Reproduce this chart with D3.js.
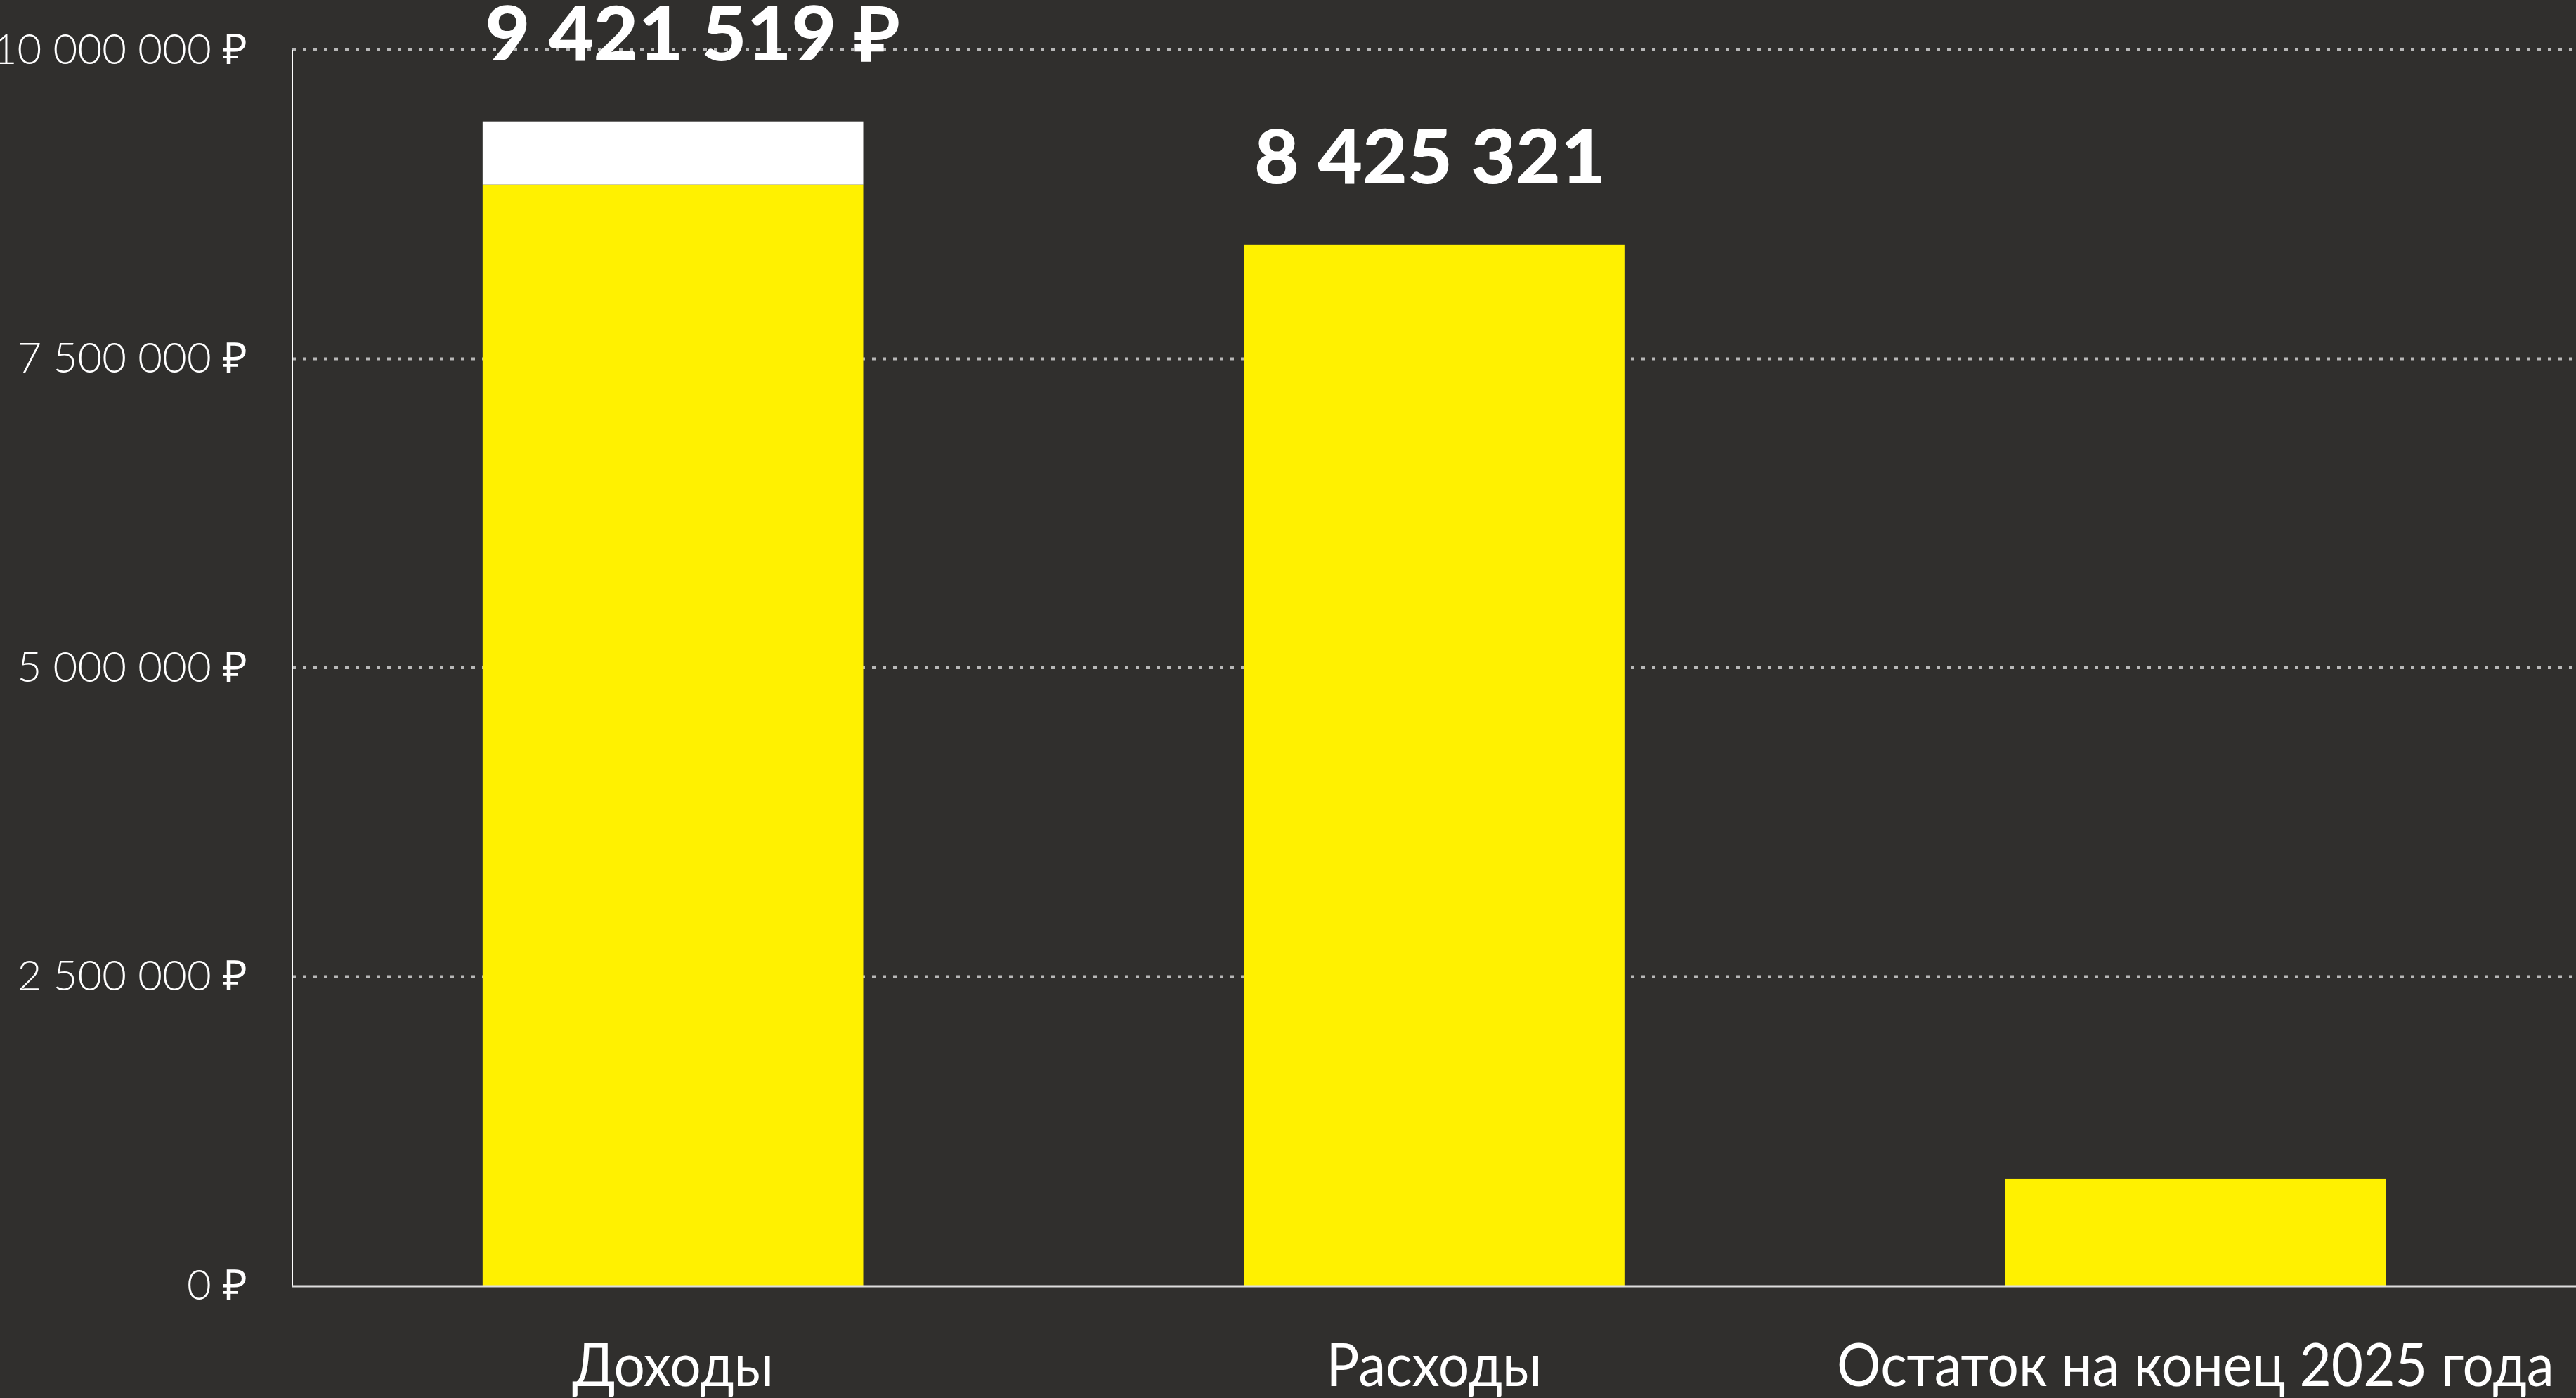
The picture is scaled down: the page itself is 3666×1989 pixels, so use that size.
<!DOCTYPE html>
<html>
<head>
<meta charset="utf-8">
<script src="https://cdn.jsdelivr.net/npm/d3@7"></script>
<style>
  html, body { margin: 0; padding: 0; background: #302f2d; }
  svg { display: block; }
</style>
</head>
<body>
<div id="chart"></div>
<script>
// chart data
var categories = ["Доходы", "Расходы", "Остаток на конец 2025 года"];
var yellowValues = [8910000, 8425321, 865000];
var whiteValues = [511519, 0, 0];          // top part of the income bar
var valueLabels = ["9 421 519 ₽", "8 425 321", ""];
var yTicks = [0, 2500000, 5000000, 7500000, 10000000];

var width = 3666,
    height = 1989,
    margin = {top: 71, right: 0, bottom: 160, left: 416};

var svg = d3.select("#chart").append("svg")
    .attr("width", width)
    .attr("height", height);

svg.append("rect").attr("width", width).attr("height", height).attr("fill", "#302f2d");

var locale = d3.formatLocale({decimal: ",", thousands: " ", grouping: [3], currency: ["", " ₽"]});
var fmt = locale.format("$,.0f");

var x = d3.scaleBand()
    .domain(categories)
    .range([margin.left, width - margin.right])
    .paddingInner(0.5)
    .paddingOuter(0.25);

var y = d3.scaleLinear()
    .domain([0, 10000000])
    .range([height - margin.bottom, margin.top]);

// dotted gridlines
svg.append("g").selectAll("line")
    .data(yTicks.filter(function (d) { return d > 0; }))
    .enter().append("line")
    .attr("x1", margin.left)
    .attr("x2", width)
    .attr("y1", function (d) { return y(d); })
    .attr("y2", function (d) { return y(d); })
    .attr("stroke", "#b8b8b8")
    .attr("stroke-width", 4)
    .attr("stroke-dasharray", "5,10");

// y axis labels
var yAxis = svg.append("g")
    .attr("transform", "translate(" + margin.left + ",0)")
    .call(d3.axisLeft(y).tickValues(yTicks).tickFormat(fmt).tickSize(0).tickPadding(64));
yAxis.select(".domain").remove();
yAxis.selectAll("text")
    .attr("fill", "#ffffff")
    .style("font-family", "Lato, sans-serif")
    .style("font-weight", 300)
    .style("font-size", "60px");

// bars
var bars = svg.append("g");
bars.selectAll(".yellow")
    .data(categories)
    .enter().append("rect")
    .attr("class", "yellow")
    .attr("x", function (d) { return x(d); })
    .attr("width", x.bandwidth())
    .attr("y", function (d, i) { return y(yellowValues[i]); })
    .attr("height", function (d, i) { return y(0) - y(yellowValues[i]); })
    .attr("fill", "#fff100");

bars.selectAll(".white")
    .data(categories)
    .enter().append("rect")
    .attr("class", "white")
    .attr("x", function (d) { return x(d); })
    .attr("width", x.bandwidth())
    .attr("y", function (d, i) { return y(yellowValues[i] + whiteValues[i]); })
    .attr("height", function (d, i) { return y(yellowValues[i]) - y(yellowValues[i] + whiteValues[i]); })
    .attr("fill", "#ffffff");

// axis lines
svg.append("line")
    .attr("x1", margin.left).attr("x2", margin.left)
    .attr("y1", y(10000000)).attr("y2", y(0))
    .attr("stroke", "#ffffff").attr("stroke-width", 2);
svg.append("line")
    .attr("x1", margin.left - 1).attr("x2", width)
    .attr("y1", y(0) + 1).attr("y2", y(0) + 1)
    .attr("stroke", "#dddddd").attr("stroke-width", 3);

// value labels above bars
svg.append("g").selectAll("text")
    .data(categories)
    .enter().append("text")
    .attr("transform", function (d, i) {
        return "translate(" + (x(d) + x.bandwidth() / 2 + (i === 0 ? 28 : -6)) + "," +
            (y(yellowValues[i] + whiteValues[i]) - 87) + ") scale(1.04,1)";
    })
    .attr("text-anchor", "middle")
    .attr("fill", "#ffffff")
    .style("font-family", "Lato, sans-serif")
    .style("font-weight", 900)
    .style("font-size", "106px")
    .text(function (d, i) { return valueLabels[i]; });

// category labels (condensed a little, like the original typeface)
svg.append("g").selectAll("text")
    .data(categories)
    .enter().append("text")
    .attr("transform", function (d) {
        return "translate(" + (x(d) + x.bandwidth() / 2) + ",1972) scale(0.91,1)";
    })
    .attr("text-anchor", "middle")
    .attr("fill", "#ffffff")
    .style("font-family", "Lato, sans-serif")
    .style("font-weight", 400)
    .style("font-size", "86px")
    .text(function (d) { return d; });
</script>
</body>
</html>
